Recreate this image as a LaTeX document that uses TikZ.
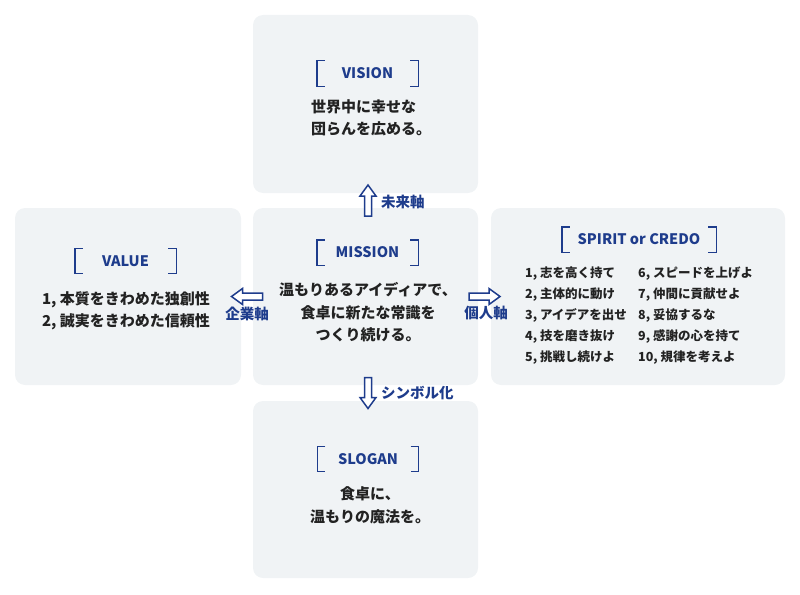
\documentclass[tikz,border=0pt]{standalone}
\usepackage{fontspec}
\setmainfont{Noto Sans CJK JP}
\usetikzlibrary{calc}
\definecolor{boxfill}{HTML}{F0F3F5}
\definecolor{navy}{HTML}{1E3C8C}
\definecolor{ink}{HTML}{222222}
\tikzset{
  panel/.style={fill=boxfill, draw=none, rounded corners=10pt, inner sep=0pt},
  heading/.style={text=navy, font=\fontsize{14.5}{16}\selectfont\bfseries, inner sep=0pt},
  headbox/.style={minimum width=101pt, minimum height=25pt, inner sep=0pt},
  bracketline/.style={draw=navy, line width=1.4pt},
  body/.style={text=ink, font=\fontsize{15}{22.5}\selectfont\bfseries, align=center, inner sep=0pt},
  items/.style={text=ink, font=\fontsize{12.5}{21}\selectfont\bfseries, align=left, inner sep=0pt, anchor=west},
  axislabel/.style={text=navy, font=\fontsize{14.5}{16}\selectfont\bfseries, inner sep=0pt},
  arrowline/.style={draw=navy, line width=1.5pt, fill=white, line join=miter},
  blockarrow/.pic={\path[arrowline] (-15.5,-3.5) -- (4.5,-3.5) -- (4.5,-8) -- (15.5,0) -- (4.5,8) -- (4.5,3.5) -- (-15.5,3.5) -- cycle;}
}
\newcommand{\brackets}[1]{%
  \draw[bracketline] ($(#1.north west)+(8,0)$) -- (#1.north west) -- (#1.south west) -- ++(8,0);
  \draw[bracketline] ($(#1.north east)+(-8,0)$) -- (#1.north east) -- (#1.south east) -- ++(-8,0);
}
\begin{document}
\begin{tikzpicture}[x=1pt,y=-1pt]
\useasboundingbox (0,0) rectangle (800,594);
% panels
\node[panel, minimum width=225pt, minimum height=178pt] (vision) at (365.5,104) {};
\node[panel, minimum width=225pt, minimum height=177pt] (mission) at (365.5,296.5) {};
\node[panel, minimum width=225pt, minimum height=177pt] (slogan) at (365.5,489.5) {};
\node[panel, minimum width=226pt, minimum height=177pt] (value) at (128,296.5) {};
\node[panel, minimum width=294pt, minimum height=177pt] (spirit) at (638,296.5) {};
% headings
\node[headbox] (hv) at (367.5,73.5) {}; \node[heading] (tv) at (hv) {VISION};
\node[headbox] (hm) at (367.5,252.5) {}; \node[heading] (tm) at (hm) {MISSION};
\node[headbox] (hs) at (368,459) {}; \node[heading] (ts) at (hs) {SLOGAN};
\node[headbox] (hval) at (125.5,261) {}; \node[heading] (tval) at (hval) {VALUE};
\node[headbox, minimum width=154pt] (hsp) at (639,239.5) {}; \node[heading] (tsp) at (hsp) {SPIRIT or CREDO};
\brackets{hv}
\brackets{hm}
\brackets{hs}
\brackets{hval}
\brackets{hsp}
% body texts
\node[body, align=left] (bv) at (371,118) {世界中に幸せな\\団らんを広める。};
\node[body] (bm) at (368,312.5) {温もりあるアイディアで、\\食卓に新たな常識を\\つくり続ける。};
\node[body] (bs) at (370,505.5) {食卓に、\\温もりの魔法を。};
\node[body] (bval) at (126,311) {1, 本質をきわめた独創性\\2, 誠実をきわめた信頼性};
\node[items] (sp1) at (525,316) {1, 志を高く持て\\2, 主体的に動け\\3, アイデアを出せ\\4, 技を磨き抜け\\5, 挑戦し続けよ};
\node[items] (sp2) at (638,316) {6, スピードを上げよ\\7, 仲間に貢献せよ\\8, 妥協するな\\9, 感謝の心を持て\\10, 規律を考えよ};
% block arrows between panels
\pic[rotate=90] at ($(mission.north)!0.5!(vision.south)+(2.5,0)$) {blockarrow};
\pic[rotate=-90] at ($(mission.south)!0.5!(slogan.north)+(2.5,0)$) {blockarrow};
\pic[rotate=180] at ($(mission.west)!0.5!(value.east)$) {blockarrow};
\pic at ($(mission.east)!0.5!(spirit.west)$) {blockarrow};
% axis labels
\node[axislabel, anchor=west] (lmirai) at (381,202) {未来軸};
\node[axislabel, anchor=west] (lsym) at (381,393) {シンボル化};
\node[axislabel] (lkigyo) at (247,314) {企業軸};
\node[axislabel] (lkojin) at (486,313) {個人軸};
\end{tikzpicture}
\end{document}
